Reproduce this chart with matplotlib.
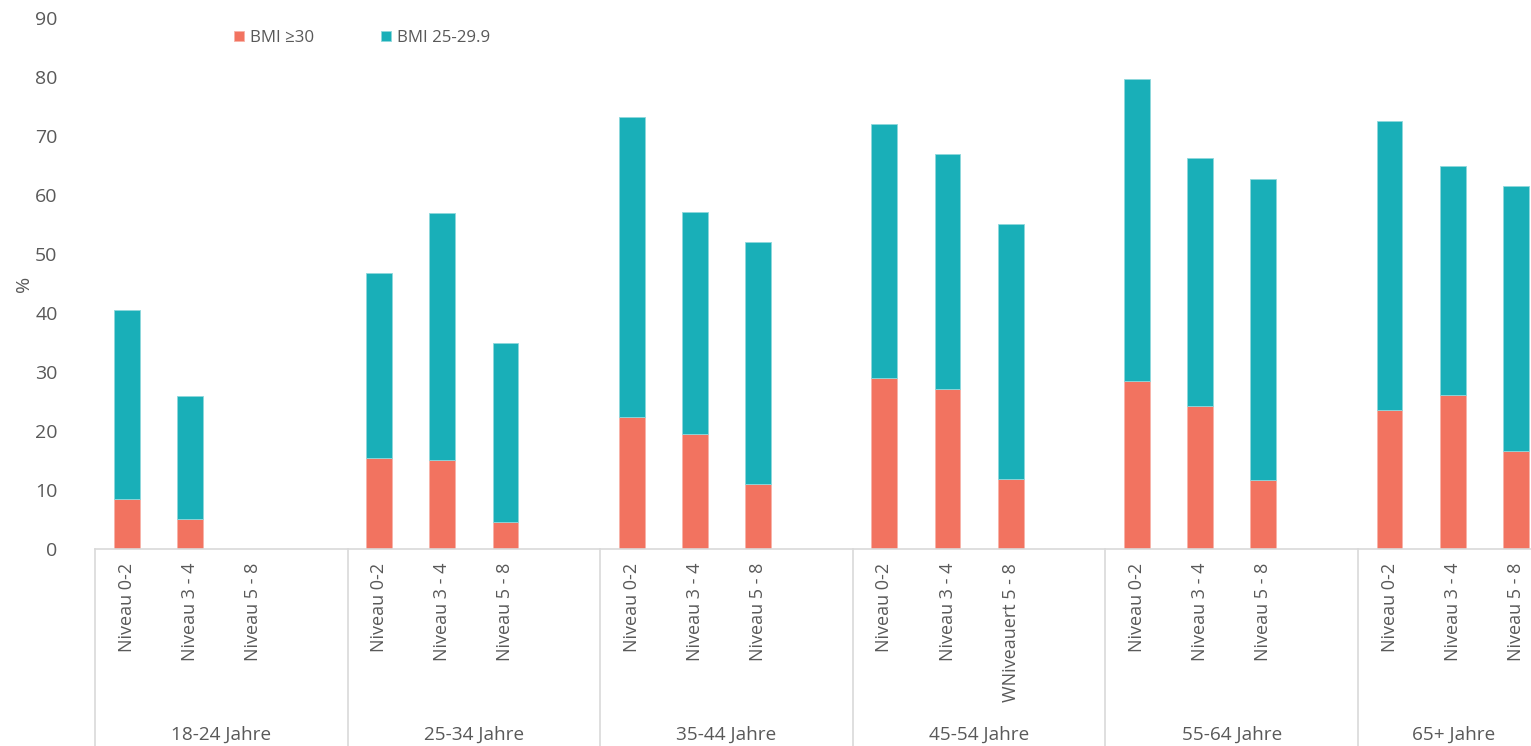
import numpy as np
import matplotlib.pyplot as plt
import matplotlib.transforms as mtransforms

plt.rcParams["font.family"] = ["Open Sans", "DejaVu Sans"]

GROUPS = ["18-24 Jahre", "25-34 Jahre", "35-44 Jahre", "45-54 Jahre", "55-64 Jahre", "65+ Jahre"]
LEVELS = [
    ["Niveau 0-2", "Niveau 3 - 4", "Niveau 5 - 8"],
    ["Niveau 0-2", "Niveau 3 - 4", "Niveau 5 - 8"],
    ["Niveau 0-2", "Niveau 3 - 4", "Niveau 5 - 8"],
    ["Niveau 0-2", "Niveau 3 - 4", "WNiveauert 5 - 8"],
    ["Niveau 0-2", "Niveau 3 - 4", "Niveau 5 - 8"],
    ["Niveau 0-2", "Niveau 3 - 4", "Niveau 5 - 8"],
]

# BMI >= 30
obese = [
    [8.5, 5.1, 0.0],
    [15.5, 15.1, 4.5],
    [22.3, 19.5, 11.1],
    [29.0, 27.1, 11.9],
    [28.4, 24.2, 11.7],
    [23.6, 26.1, 16.6],
]
# total (BMI >= 25), top of stacked bar
total = [
    [40.5, 26.0, 0.0],
    [46.8, 57.0, 34.9],
    [73.2, 57.1, 52.0],
    [72.0, 66.9, 55.0],
    [79.7, 66.2, 62.7],
    [72.5, 64.9, 61.6],
]

RED = "#F27360"
TEAL = "#19AFB8"
GREY = "#595959"
LINE = "#D9D9D9"


def main():
    fig = plt.figure(figsize=(15.31, 7.46), dpi=100)
    ax = fig.add_axes([95 / 1531, 197 / 746, (1531 - 95) / 1531, 531 / 746])

    ob = np.array(obese).ravel()
    over = np.array(total).ravel() - ob
    xs = np.array([g * 4 + j for g in range(len(GROUPS)) for j in range(3)])
    labels = [lab for grp in LEVELS for lab in grp]

    ax.bar(xs, ob, width=0.41, color=RED, edgecolor="#F7B3A8", linewidth=0.6, label="BMI ≥30")
    ax.bar(xs, over, width=0.41, bottom=ob, color=TEAL, edgecolor="#8ED8DC", linewidth=0.6,
           label="BMI 25-29.9")

    xmax = 22.24  # chart is cut off at the right edge
    ax.set_ylim(0, 90)
    ax.set_xlim(-0.5, xmax)
    ax.set_yticks(np.arange(0, 91, 10))
    ax.tick_params(axis="y", length=0, pad=27, labelsize=14, labelcolor=GREY)
    ax.set_xticks(xs)
    ax.set_xticklabels(labels, rotation=90, va="top", ha="center")
    ax.tick_params(axis="x", length=0, pad=10, labelsize=13, labelcolor=GREY)

    for s in ["left", "right", "top"]:
        ax.spines[s].set_visible(False)
    ax.spines["bottom"].set_color(LINE)
    ax.spines["bottom"].set_linewidth(1.2)

    ax.set_ylabel("%", fontsize=14, color=GREY)
    ax.yaxis.set_label_coords(-0.043, 0.5)

    trans = mtransforms.blended_transform_factory(ax.transData, ax.transAxes)
    for g, name in enumerate(GROUPS):
        left = g * 4 - 0.5
        right = min(left + 4, xmax)
        ax.plot([left, left], [0, -0.4], color=LINE, lw=1.2,
                transform=trans, clip_on=False)
        ax.text((left + right) / 2 + (0.14 if right < left + 4 else 0), -0.350, name,
                transform=trans, ha="center", va="center", fontsize=13.7, color=GREY)

    ax.legend(loc="center left", bbox_to_anchor=(219 / 1531, 1 - 38 / 746),
              bbox_transform=fig.transFigure, ncol=2, frameon=False,
              handlelength=0.55, handleheight=0.55, handletextpad=0.35,
              columnspacing=4.0, fontsize=12.2, labelcolor=GREY)

    fig.savefig("out.png", dpi=100)


if __name__ == "__main__":
    main()
